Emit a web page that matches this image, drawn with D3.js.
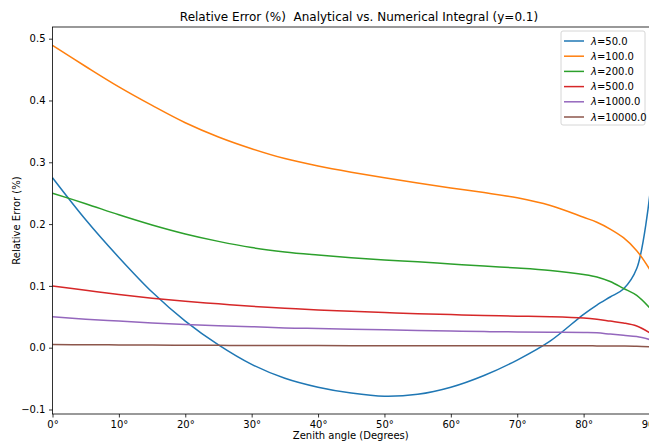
<!DOCTYPE html>
<html>
<head>
<meta charset="utf-8">
<script src="https://cdn.jsdelivr.net/npm/d3@7"></script>
<style>
  body { margin: 0; background: #fff; }
  text { font-family: 'DejaVu Sans', sans-serif; }
</style>
</head>
<body>
<svg width="649" height="441" id="mainsvg"></svg>
<script>
// zenith angles (degrees) at which values were read
const angles = [0, 5, 10, 15, 20, 25, 30, 35, 40, 45, 50, 55, 60, 65, 70, 75, 80, 82, 84, 86, 88, 90]

const lam50    = [0.275, 0.207, 0.146, 0.090, 0.043, 0.0045, -0.027, -0.0495, -0.064, -0.0735, -0.0787, -0.0755, -0.064, -0.045, -0.020, 0.011, 0.054, 0.069, 0.082, 0.095, 0.128, 0.250]
const lam100   = [0.489, 0.455, 0.422, 0.392, 0.364, 0.341, 0.322, 0.306, 0.294, 0.284, 0.275, 0.2665, 0.2585, 0.251, 0.2425, 0.230, 0.211, 0.203, 0.192, 0.178, 0.157, 0.126]
const lam200   = [0.250, 0.233, 0.215, 0.1985, 0.184, 0.172, 0.162, 0.155, 0.150, 0.1456, 0.142, 0.139, 0.1355, 0.132, 0.129, 0.125, 0.1185, 0.1145, 0.107, 0.096, 0.0845, 0.0637]
const lam500   = [0.100, 0.093, 0.086, 0.080, 0.075, 0.071, 0.067, 0.064, 0.061, 0.059, 0.057, 0.055, 0.0535, 0.052, 0.051, 0.050, 0.048, 0.046, 0.043, 0.040, 0.035, 0.024]
const lam1000  = [0.050, 0.046, 0.043, 0.040, 0.0375, 0.0355, 0.034, 0.032, 0.031, 0.030, 0.029, 0.028, 0.027, 0.026, 0.0255, 0.025, 0.0245, 0.024, 0.022, 0.020, 0.018, 0.013]
const lam10000 = [0.005, 0.0048, 0.0045, 0.0042, 0.004, 0.0038, 0.0036, 0.0035, 0.0034, 0.0033, 0.0032, 0.0032, 0.0031, 0.0031, 0.003, 0.003, 0.003, 0.0029, 0.0028, 0.0026, 0.0022, 0.0013]

const seriesNames = ['50.0', '100.0', '200.0', '500.0', '1000.0', '10000.0']
const seriesValues = [lam50, lam100, lam200, lam500, lam1000, lam10000]
const colors = ['#1f77b4', '#ff7f0e', '#2ca02c', '#d62728', '#9467bd', '#8c564b']

const xTicks = [0, 10, 20, 30, 40, 50, 60, 70, 80, 90]
const yTicks = [-0.1, 0.0, 0.1, 0.2, 0.3, 0.4, 0.5]

const svg = d3.select('svg')
const box = {left: 52.5, right: 650, top: 27, bottom: 414}

const xScale = d3.scaleLinear().domain([0, 90]).range([box.left, box.right])
const yScale = d3.scaleLinear().domain([-0.1073, 0.5189]).range([box.bottom, box.top])

// lines
const line = d3.line()
    .x((d, i) => xScale(angles[i]))
    .y(d => yScale(d))
    .curve(d3.curveCatmullRom.alpha(0.5))

svg.append('g')
    .selectAll('path')
    .data(seriesValues)
    .join('path')
    .attr('d', line)
    .attr('fill', 'none')
    .attr('stroke', (d, i) => colors[i])
    .attr('stroke-width', 1.5)

// axes
const xAxis = d3.axisBottom(xScale).tickValues(xTicks).tickSize(3.5).tickPadding(3.5)
    .tickFormat(d => d + '°')
const yAxis = d3.axisLeft(yScale).tickValues(yTicks).tickSize(3.5).tickPadding(3.5)
    .tickFormat(d => d < 0 ? '\u2212' + d3.format('.1f')(-d) : d3.format('.1f')(d))

const xg = svg.append('g').attr('transform', `translate(0,${box.bottom})`).call(xAxis)
const yg = svg.append('g').attr('transform', `translate(${box.left},0)`).call(yAxis)
;[xg, yg].forEach(g => {
    g.select('.domain').remove()
    g.selectAll('line').attr('stroke', '#000').attr('stroke-width', 0.8)
    g.selectAll('text').attr('font-size', 10).attr('fill', '#000')
        .attr('font-family', "'DejaVu Sans', sans-serif")
})

// frame
svg.append('rect')
    .attr('x', box.left).attr('y', box.top)
    .attr('width', box.right - box.left).attr('height', box.bottom - box.top)
    .attr('fill', 'none').attr('stroke', '#000').attr('stroke-width', 0.8)

// titles
svg.append('text')
    .attr('x', 359).attr('y', 21)
    .attr('text-anchor', 'middle').attr('font-size', 12)
    .style('white-space', 'pre')
    .text('Relative Error (%)  Analytical vs. Numerical Integral (y=0.1)')

svg.append('text')
    .attr('x', (box.left + box.right) / 2 - 0.5).attr('y', 439)
    .attr('text-anchor', 'middle').attr('font-size', 10)
    .text('Zenith angle (Degrees)')

svg.append('text')
    .attr('transform', `translate(20,${(box.top + box.bottom) / 2}) rotate(-90)`)
    .attr('text-anchor', 'middle').attr('font-size', 10)
    .text('Relative Error (%)')

// legend
const legend = svg.append('g')
legend.append('rect')
    .attr('x', 561).attr('y', 31).attr('width', 84).attr('height', 94)
    .attr('rx', 2).attr('fill', 'rgba(255,255,255,0.8)')
    .attr('stroke', '#cccccc').attr('stroke-width', 0.8)

const rows = legend.selectAll('g.row')
    .data(seriesNames)
    .join('g')
    .attr('class', 'row')
    .attr('transform', (d, i) => `translate(0,${41 + i * 15.2})`)

rows.append('line')
    .attr('x1', 564).attr('x2', 584).attr('y1', 0).attr('y2', 0)
    .attr('stroke', (d, i) => colors[i]).attr('stroke-width', 1.5)

const lt = rows.append('text')
    .attr('x', 591).attr('y', 3.6).attr('font-size', 10)
lt.append('tspan').attr('font-style', 'italic').text('λ')
lt.append('tspan').text(d => '=' + d)
</script>
</body>
</html>
